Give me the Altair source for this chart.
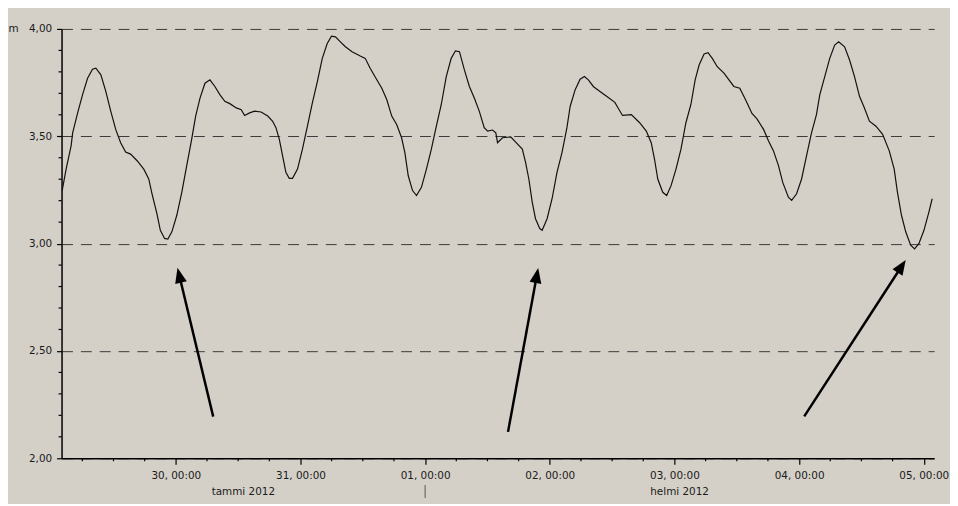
import math
import altair as alt
import pandas as pd

# --- data (hours since 29 Jan 2012 00:00, water level in m) ---
hours = [2.12, 2.88, 3.84, 4.14, 5.10, 6.05, 7.01, 7.96, 8.61, 9.57, 10.52, 11.47, 12.43, 13.38,
         14.34, 15.29, 16.55, 17.83, 18.79, 19.42, 20.37, 21.02, 21.84, 22.47, 23.24, 24.19,
         25.15, 26.10, 27.05, 27.82, 28.66, 29.61, 30.57, 31.52, 32.48, 33.43, 34.39, 35.65,
         36.60, 37.25, 38.21, 39.16, 40.42, 41.70, 42.65, 43.28, 43.93, 44.56, 45.19, 45.84,
         46.47, 47.43, 48.38, 49.34, 50.29, 51.25, 52.20, 53.15, 53.98, 54.74, 55.69, 56.65,
         57.93, 59.51, 60.47, 61.42, 62.70, 63.66, 64.61, 65.57, 66.52, 67.47, 68.10, 68.75,
         69.58, 70.34, 71.29, 72.25, 73.20, 74.16, 75.11, 76.07, 77.02, 77.84, 78.61, 79.56,
         80.52, 81.47, 82.42, 83.38, 84.03, 84.98, 85.61, 85.94, 86.89, 88.48, 89.43, 90.71,
         91.34, 91.97, 92.62, 93.25, 94.07, 94.53, 95.48, 96.44, 97.39, 98.35, 99.30, 99.93,
         100.89, 101.84, 102.66, 103.43, 104.38, 105.66, 106.94, 108.53, 109.15, 110.00,
         111.71, 113.30, 114.58, 115.53, 116.16, 116.79, 117.75, 118.51, 119.35, 120.30,
         121.26, 122.21, 123.17, 123.99, 124.75, 125.71, 126.47, 127.29, 128.25, 129.53,
         131.44, 132.58, 133.67, 134.93, 135.89, 137.16, 138.12, 139.07, 140.03, 140.85,
         141.94, 142.57, 143.52, 144.48, 145.43, 146.39, 147.34, 147.99, 148.94, 149.90,
         150.85, 151.62, 152.76, 153.72, 154.67, 155.63, 156.58, 157.54, 158.80, 160.08,
         161.36, 162.31, 162.94, 163.71, 164.53, 165.48, 166.24, 167.08, 168.04, 168.99, 169.62]
level = [3.247, 3.347, 3.455, 3.516, 3.609, 3.694, 3.770, 3.812, 3.817, 3.786, 3.709, 3.617, 3.532,
         3.470, 3.427, 3.417, 3.386, 3.347, 3.301, 3.232, 3.139, 3.062, 3.024, 3.021, 3.055, 3.132,
         3.239, 3.363, 3.486, 3.594, 3.678, 3.747, 3.763, 3.732, 3.694, 3.663, 3.652, 3.632,
         3.624, 3.597, 3.609, 3.617, 3.613, 3.594, 3.570, 3.540, 3.486, 3.409, 3.332, 3.304,
         3.304, 3.347, 3.440, 3.547, 3.655, 3.755, 3.863, 3.932, 3.966, 3.963, 3.940, 3.917,
         3.894, 3.874, 3.863, 3.817, 3.763, 3.724, 3.671, 3.594, 3.555, 3.493, 3.424, 3.316,
         3.247, 3.224, 3.262, 3.347, 3.440, 3.547, 3.648, 3.778, 3.863, 3.898, 3.894, 3.809,
         3.732, 3.678, 3.617, 3.540, 3.524, 3.529, 3.516, 3.470, 3.493, 3.497, 3.473, 3.440,
         3.378, 3.301, 3.193, 3.116, 3.070, 3.062, 3.116, 3.209, 3.332, 3.424, 3.540, 3.640,
         3.717, 3.766, 3.778, 3.763, 3.732, 3.709, 3.686, 3.658, 3.632, 3.597,
         3.601, 3.563, 3.524, 3.470, 3.394, 3.301, 3.239, 3.224, 3.270, 3.347,
         3.440, 3.563, 3.648, 3.763, 3.832, 3.883, 3.889, 3.863, 3.824, 3.794,
         3.732, 3.724, 3.671, 3.606, 3.581, 3.532, 3.478, 3.432, 3.363, 3.285,
         3.216, 3.201, 3.232, 3.301, 3.409, 3.516, 3.601, 3.694, 3.778, 3.863,
         3.925, 3.940, 3.917, 3.855, 3.778, 3.686, 3.632, 3.570, 3.547, 3.509,
         3.432, 3.347, 3.239, 3.132, 3.055, 2.993, 2.975, 3.001, 3.062, 3.147, 3.209]

x_domain = [2.0, 170.0]
y_domain = [2.0, 4.0]
x_tick_hours = [24, 48, 72, 96, 120, 144, 168]
x_tick_labels = ["30, 00:00", "31, 00:00", "01, 00:00", "02, 00:00", "03, 00:00", "04, 00:00", "05, 00:00"]
x_minor_hours = [6, 12, 18, 30, 36, 42, 54, 60, 66, 78, 84, 90, 102, 108, 114,
                 126, 132, 138, 150, 156, 162]
y_ticks = [2.0, 2.5, 3.0, 3.5, 4.0]
y_minor = [2.1, 2.2, 2.3, 2.4, 2.6, 2.7, 2.8, 2.9, 3.1, 3.2, 3.3, 3.4, 3.6, 3.7, 3.8, 3.9]
month_names = ["tammi 2012", "helmi 2012"]
month_centers = [37.0, 121.0]
month_sep = [72.0]

arrow_tail_h = [31.2, 87.96, 144.99]
arrow_tail_v = [2.194, 2.123, 2.195]
arrow_tip_h = [24.32, 93.77, 164.53]
arrow_tip_v = [2.887, 2.886, 2.924]

# --- layout ---
W, H = 880, 433
FONT = "DejaVu Sans"
FS = 10.5
TXT = "#1a1a1a"

px_h = W / (x_domain[1] - x_domain[0])
px_v = H / (y_domain[1] - y_domain[0])

arrows = []
for th, tv, hh, hv in zip(arrow_tail_h, arrow_tail_v, arrow_tip_h, arrow_tip_v):
    dx = (hh - th) * px_h
    dy = -(hv - tv) * px_v
    ln = math.hypot(dx, dy)
    ang = math.degrees(math.atan2(dx, -dy)) % 360
    k = 10.0 / ln
    arrows.append({"th": th, "tv": tv, "hh": hh, "hv": hv,
                   "eh": hh - k * (hh - th), "ev": hv - k * (hv - tv), "angle": ang})
arrow_df = pd.DataFrame(arrows)

line_df = pd.DataFrame({"h": hours, "v": level})
xminor_df = pd.DataFrame({"h": x_minor_hours})
yminor_df = pd.DataFrame({"v": y_minor})
month_df = pd.DataFrame({"h": month_centers, "name": month_names})
sep_df = pd.DataFrame({"h": month_sep})

xs = alt.Scale(domain=x_domain, nice=False, zero=False)
ys = alt.Scale(domain=y_domain, nice=False, zero=False)

label_arr = "[" + ",".join('"%s"' % s for s in x_tick_labels) + "]"

x_axis = alt.Axis(values=x_tick_hours, labelExpr=label_arr + "[round(datum.value/24) - 1]",
                  tickSize=6, tickColor="#000", tickWidth=1.2, domainColor="#000", domainWidth=1.5,
                  labelFont=FONT, labelFontSize=FS, labelColor=TXT, labelPadding=6,
                  labelFlush=False, labelOverlap=False, grid=False, title=None)
y_axis = alt.Axis(values=y_ticks, labelExpr="replace(format(datum.value, '.2f'), '.', ',')",
                  tickSize=5, tickColor="#000", tickWidth=1.2, domainColor="#000", domainWidth=1.5,
                  labelFont=FONT, labelFontSize=FS, labelColor=TXT, labelPadding=5,
                  labelFlush=False, labelOverlap=False,
                  grid=True, gridColor="#3a3a3a", gridWidth=1, gridDash=[11, 8],
                  title="m", titleAngle=0, titleX=-54, titleY=0, titleAlign="left",
                  titleBaseline="middle", titleFont=FONT, titleFontSize=FS,
                  titleFontWeight="normal", titleColor=TXT)

line = alt.Chart(line_df).mark_line(color="#111", strokeWidth=1.2).encode(
    x=alt.X("h:Q", scale=xs, axis=x_axis),
    y=alt.Y("v:Q", scale=ys, axis=y_axis),
)

xminor = alt.Chart(xminor_df).mark_rule(color="#000", strokeWidth=1.2).encode(
    x=alt.X("h:Q", scale=xs, axis=x_axis),
    y=alt.value(H), y2=alt.value(H + 3),
)
yminor = alt.Chart(yminor_df).mark_rule(color="#000", strokeWidth=1.2).encode(
    y=alt.Y("v:Q", scale=ys, axis=y_axis),
    x=alt.value(-3), x2=alt.value(0),
)
months = alt.Chart(month_df).mark_text(font=FONT, fontSize=FS, color=TXT, align="center",
                                       baseline="middle").encode(
    x=alt.X("h:Q", scale=xs, axis=x_axis),
    y=alt.value(H + 34),
    text="name:N",
)
sep = alt.Chart(sep_df).mark_rule(color="#555", strokeWidth=1).encode(
    x=alt.X("h:Q", scale=xs, axis=x_axis),
    y=alt.value(H + 27), y2=alt.value(H + 40),
)
shafts = alt.Chart(arrow_df).mark_rule(color="#000", strokeWidth=2.5).encode(
    x=alt.X("th:Q", scale=xs, axis=x_axis), y=alt.Y("tv:Q", scale=ys, axis=y_axis),
    x2="eh:Q", y2="ev:Q",
)
heads = alt.Chart(arrow_df).mark_point(shape="M0,0L0.75,1.9L-0.75,1.9Z", size=256, filled=True,
                                       color="#000", opacity=1, strokeWidth=0).encode(
    x=alt.X("hh:Q", scale=xs, axis=x_axis), y=alt.Y("hv:Q", scale=ys, axis=y_axis),
    angle=alt.Angle("angle:Q", scale=None),
)

chart = alt.layer(line, xminor, yminor, months, sep, shafts, heads).properties(
    width=W, height=H,
    autosize=alt.AutoSizeParams(type="none"),
    padding={"left": 54, "top": 19, "right": 16, "bottom": 44},
    background="#d4d0c8",
).configure_view(stroke=None)

chart.save("out.html", embed_options={"renderer": "svg", "actions": False})
